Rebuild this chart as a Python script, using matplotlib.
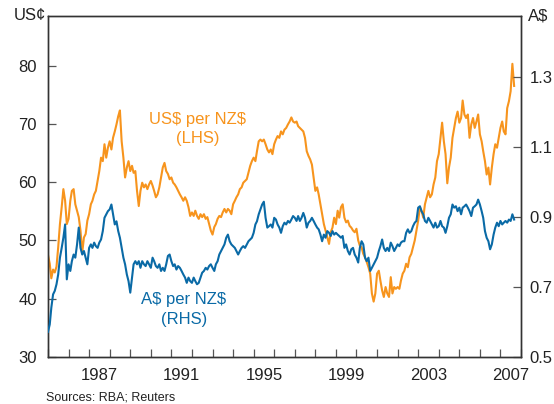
import matplotlib
matplotlib.use("Agg")
import matplotlib.pyplot as plt
import matplotlib.dates as mdates
import pandas as pd
import datetime as dt

plt.rcParams['font.family'] = ['Liberation Sans', 'DejaVu Sans']
plt.rcParams['text.parse_math'] = False

# Monthly observations, Jan 1985 onwards
start_month = "1985-01-01"

us_per_nz = [
    47.5, 46.0, 43.5, 45.0, 44.5, 45.5,
    48.8, 52.8, 55.7, 58.8, 56.8,
    52.8, 53.7, 56.8, 58.5, 58.8, 56.2, 55.1, 54.0, 51.7, 47.9, 50.5, 51.1, 53.4, 54.5, 56.2, 56.8,
    57.9, 58.5, 60.2, 61.9, 64.2, 63.6, 66.5, 64.2, 65.9, 67.0, 65.6, 67.6, 68.7, 69.9, 71.3, 72.3,
    67.0, 64.2, 60.8,
    62.5, 63.6, 61.9, 62.8, 61.6, 61.9, 58.5, 55.9, 58.5, 59.9, 59.1, 59.6, 58.8, 59.6, 60.2, 59.4,
    58.5, 57.4, 57.9, 59.1, 60.8, 62.5, 63.3, 61.9, 61.4, 60.5, 60.8, 59.9, 59.6, 59.1, 58.5, 57.9,
    57.4, 56.8, 57.4,
    56.8, 55.7, 54.2, 54.8, 54.2, 55.1, 54.2, 53.7, 54.5, 54.0, 54.5, 53.7, 54.0, 52.8, 51.7, 51.0,
    52.3, 52.8, 53.7, 54.2, 54.0, 54.8, 55.4, 54.8, 55.4, 55.1, 54.5, 56.2, 56.8, 57.4, 57.9, 58.8,
    59.1, 59.9, 60.2, 60.5,
    61.6, 62.8, 63.6, 64.2, 63.6, 65.3, 67.0, 67.3, 67.0, 67.3, 66.5, 65.6, 65.1, 65.6, 64.8, 66.5,
    67.3, 67.9, 67.6,
    # from mid-1996
    68.7, 68.2, 69.0, 69.3, 69.9, 70.4, 71.1, 70.4, 70.2, 70.4, 69.6, 69.3, 69.0, 68.7, 67.6, 65.3,
    64.5, 63.9, 63.0, 60.8, 58.5, 59.1, 57.9, 56.2, 54.5, 52.8, 51.7, 50.5, 49.4, 51.4,
    52.2, 53.9, 52.8, 55.1, 53.9, 55.7, 56.2, 53.9, 53.1, 53.4, 52.5, 52.2, 51.7, 51.4, 52.0, 50.0,
    49.1, 48.8, 47.7, 47.1, 46.3, 45.4, 44.3, 40.9, 39.5, 40.9, 44.3, 44.8, 43.1, 41.4, 40.3, 42.0,
    40.9, 40.3, 43.7,
    40.9, 42.0, 41.7, 42.0, 41.7, 43.1, 44.3, 44.8, 46.0, 45.4, 47.1, 47.7, 48.8, 50.0, 51.7, 53.4,
    55.7, 55.1, 53.9, 56.2, 57.4, 58.5, 57.4, 57.9, 59.6, 60.8, 63.6, 64.8, 67.6, 70.2, 67.0, 64.8,
    59.8, 62.5, 64.2,
    67.6, 69.3, 71.0, 72.1, 70.2, 71.0, 74.0, 71.6, 71.0, 71.6, 67.6, 69.9, 71.0, 69.3, 70.4, 71.6,
    68.2, 67.0, 65.3, 63.6, 61.3, 62.5, 59.6, 62.5, 64.8, 66.5, 65.9, 67.6, 69.3, 70.4, 68.7, 68.2,
    72.7, 73.9, 75.6, 80.3, 76.5,
]

aud_per_nz = [
    0.572, 0.593, 0.641, 0.679, 0.689, 0.708,
    0.736, 0.784, 0.812, 0.841, 0.879,
    0.722, 0.765, 0.746, 0.774, 0.793, 0.784, 0.822, 0.870, 0.812, 0.793, 0.803, 0.784, 0.765, 0.812,
    0.822, 0.812, 0.827, 0.817, 0.812, 0.827, 0.836, 0.860, 0.898, 0.908, 0.917, 0.922, 0.936, 0.908,
    0.879, 0.888, 0.860, 0.841, 0.812, 0.784, 0.765,
    0.736, 0.717, 0.684, 0.727, 0.765, 0.774, 0.765, 0.774, 0.755, 0.774, 0.765, 0.760, 0.774, 0.765,
    0.755, 0.784, 0.774, 0.760, 0.755, 0.765, 0.746, 0.755, 0.746, 0.765, 0.789, 0.793, 0.774, 0.760,
    0.765, 0.750, 0.760, 0.755, 0.746, 0.736, 0.727,
    0.712, 0.727, 0.717, 0.712, 0.727, 0.717, 0.708, 0.712, 0.727, 0.741, 0.746, 0.755, 0.750, 0.760,
    0.765, 0.755, 0.746, 0.765, 0.774, 0.793, 0.803, 0.812, 0.822, 0.841, 0.850, 0.831, 0.822, 0.817,
    0.812, 0.803, 0.793, 0.803, 0.812, 0.817, 0.812, 0.822,
    0.831, 0.836, 0.841, 0.855, 0.879, 0.888, 0.908, 0.922, 0.936, 0.944, 0.898, 0.870, 0.874, 0.879,
    0.870, 0.898, 0.893, 0.879, 0.870,
    # from mid-1996
    0.855, 0.874, 0.884, 0.879, 0.889, 0.884, 0.893, 0.903, 0.898, 0.889, 0.903, 0.889, 0.898, 0.912,
    0.898, 0.870, 0.884, 0.889, 0.898, 0.889, 0.879, 0.870, 0.865, 0.850, 0.831, 0.850, 0.841, 0.860,
    0.855, 0.846,
    0.860, 0.850, 0.855, 0.850, 0.846, 0.841, 0.846, 0.812, 0.822, 0.803, 0.793, 0.808, 0.812, 0.793,
    0.784, 0.770, 0.812, 0.831, 0.822, 0.784, 0.774, 0.784, 0.746, 0.755, 0.765, 0.774, 0.784, 0.803,
    0.817, 0.836, 0.812, 0.803, 0.812, 0.803, 0.827,
    0.817, 0.803, 0.812, 0.822, 0.817, 0.827, 0.831, 0.831, 0.855, 0.865, 0.855, 0.860, 0.874, 0.884,
    0.889, 0.927, 0.931, 0.917, 0.908, 0.889, 0.884, 0.898, 0.889, 0.879, 0.870, 0.884, 0.870, 0.874,
    0.889, 0.874, 0.870, 0.855, 0.874, 0.898, 0.908,
    0.936, 0.927, 0.931, 0.917, 0.927, 0.908, 0.927, 0.931, 0.936, 0.927, 0.917, 0.903, 0.927, 0.931,
    0.936, 0.950, 0.936, 0.917, 0.898, 0.860, 0.841, 0.831, 0.808, 0.822, 0.850, 0.870, 0.884, 0.874,
    0.889, 0.879, 0.884, 0.889, 0.884, 0.893, 0.889, 0.908, 0.893,
]

label_years = [1987, 1991, 1995, 1999, 2003, 2007]
left_ticks = [30, 40, 50, 60, 70, 80]
right_ticks = [0.5, 0.7, 0.9, 1.1, 1.3]

ORANGE = "#F7941D"
BLUE = "#0A6AA6"
TEXT = "#222222"

dates_us = pd.date_range(start_month, periods=len(us_per_nz), freq="MS")
dates_aud = pd.date_range(start_month, periods=len(aud_per_nz), freq="MS")

fig = plt.figure(figsize=(5.54, 4.04), dpi=100)
ax = fig.add_axes([48 / 554, 1 - 357 / 404, (521 - 48) / 554, (357 - 16) / 404])
ax2 = ax.twinx()

ax.plot(dates_us, us_per_nz, color=ORANGE, lw=1.5, zorder=2)
ax2.plot(dates_aud, aud_per_nz, color=BLUE, lw=1.5, zorder=3)

ax.set_xlim(dt.datetime(1985, 1, 1), dt.datetime(2008, 1, 1))
ax.set_ylim(30, 88.5)
ax2.set_ylim(0.5, 1.475)

ax.set_yticks(left_ticks)
ax.set_yticklabels([str(v) for v in left_ticks])
ax2.set_yticks(right_ticks)
ax2.set_yticklabels([f"{v:.1f}" for v in right_ticks])

# x: minor ticks at year starts, labels centred mid-year
ax.xaxis.set_minor_locator(mdates.YearLocator(1))
ax.set_xticks([dt.datetime(y, 7, 2) for y in label_years])
ax.set_xticklabels([str(y) for y in label_years])

ax.tick_params(axis='x', which='major', length=0, pad=8, labelsize=12, labelcolor=TEXT)
ax.tick_params(axis='x', which='minor', direction='in', length=6, width=0.9, color='#555555')
ax.tick_params(axis='y', direction='in', length=6, width=0.9, pad=8, labelsize=12,
               labelcolor=TEXT, color='#555555')
ax2.tick_params(axis='y', direction='in', length=6, width=0.9, pad=6, labelsize=12,
                labelcolor=TEXT, color='#555555')

for a in (ax, ax2):
    for s in a.spines.values():
        s.set_color('#333333')
        s.set_linewidth(1.0)

ax.text(-0.005, 1.0, "US\u00a2", transform=ax.transAxes, ha='right', va='center',
        fontsize=12, color=TEXT)
ax.text(1.015, 1.0, "A$", transform=ax.transAxes, ha='left', va='center',
        fontsize=12, color=TEXT)

ax.text(dt.datetime(1992, 4, 15), 69.1, "US$ per NZ$\n(LHS)", ha='center', va='center',
        fontsize=12, color=ORANGE, linespacing=1.35)
ax2.text(dt.datetime(1991, 8, 10), 0.636, "A$ per NZ$\n(RHS)", ha='center', va='center',
         fontsize=12, color=BLUE, linespacing=1.35)

fig.text(46 / 554, 1 - 397 / 404, "Sources: RBA; Reuters", ha='left', va='center',
         fontsize=9, color=TEXT)

fig.savefig("out.png", dpi=100)
